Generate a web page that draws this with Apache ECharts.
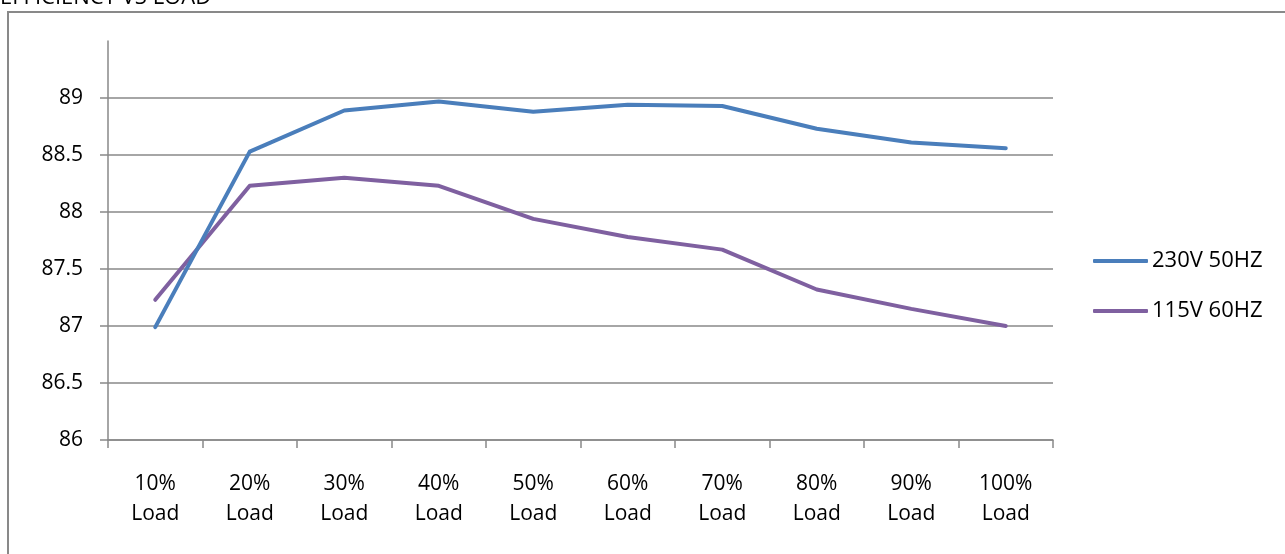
<!DOCTYPE html>
<html>
<head>
<meta charset="utf-8">
<style>
  html, body { margin: 0; padding: 0; background: #fff; }
  #chart { width: 1285px; height: 554px; }
</style>
<script src="https://cdn.jsdelivr.net/npm/echarts@6/dist/echarts.min.js"></script>
</head>
<body>
<div id="chart"></div>
<script>
// Load steps on the x axis
const loads = ['10%\nLoad', '20%\nLoad', '30%\nLoad', '40%\nLoad', '50%\nLoad',
               '60%\nLoad', '70%\nLoad', '80%\nLoad', '90%\nLoad', '100%\nLoad'];

// Efficiency (%) at each load step
const eff230 = [86.99, 88.53, 88.89, 88.97, 88.88, 88.94, 88.93, 88.73, 88.61, 88.56];
const eff115 = [87.23, 88.23, 88.30, 88.23, 87.94, 87.78, 87.67, 87.32, 87.15, 87.00];

const seriesNames = ['230V 50HZ', '115V 60HZ'];
const titleText = 'EFFICIENCY VS LOAD';

// Value axis range and labelled ticks
const yMin = 86, yMax = 89.5, yStep = 0.5;
const yTickLabels = [86, 86.5, 87, 87.5, 88, 88.5, 89];

const FONT = '"Open Sans", sans-serif';
const GRID = '#898989';
const COLORS = ['#4a7ebb', '#7f60a0'];

const chart = echarts.init(document.getElementById('chart'), null, { renderer: 'canvas' });

chart.setOption({
  backgroundColor: '#ffffff',
  animation: false,
  textStyle: { fontFamily: FONT },
  graphic: [
    {
      type: 'rect',
      shape: { x: 8, y: 12, width: 1400, height: 700 },
      style: { fill: 'none', stroke: GRID, lineWidth: 2 },
      z: 0
    },
    {
      // chart title, sitting above the frame and partly cut by the page edge
      type: 'text',
      style: {
        x: 0, y: -13, text: titleText, fontSize: 22, fontFamily: FONT, fill: '#000'
      }
    }
  ],
  legend: {
    orient: 'vertical',
    left: 1093,
    top: 250,
    padding: 0,
    itemWidth: 55,
    itemHeight: 4,
    itemGap: 28,
    data: seriesNames.map(n => ({ name: n, icon: 'roundRect' })),
    textStyle: { fontSize: 22, color: '#000', fontFamily: FONT, padding: [0, 0, 0, -1] }
  },
  grid: { left: 108, right: 232, top: 41, bottom: 114, containLabel: false },
  xAxis: {
    type: 'category',
    data: loads,
    boundaryGap: true,
    axisLine: { lineStyle: { color: GRID, width: 1.5 } },
    axisTick: { show: true, length: 8, alignWithLabel: false, lineStyle: { color: GRID, width: 1.5 } },
    axisLabel: { color: '#000', fontSize: 21, lineHeight: 30, margin: 29, fontFamily: FONT, interval: 0 },
    splitLine: { show: false }
  },
  yAxis: {
    type: 'value',
    min: yMin,
    max: yMax,
    interval: yStep,
    axisLine: { show: true, lineStyle: { color: GRID, width: 1.5 } },
    axisTick: { show: true, length: 8, lineStyle: { color: GRID, width: 1.5 }, customValues: yTickLabels },
    axisLabel: {
      color: '#000', fontSize: 21, margin: 25, fontFamily: FONT,
      customValues: yTickLabels,
      formatter: v => String(v)
    },
    splitLine: {
      show: true,
      lineStyle: {
        width: 1.5,
        color: [GRID, GRID, GRID, GRID, GRID, GRID, GRID, 'rgba(0,0,0,0)']
      }
    }
  },
  series: [
    {
      name: seriesNames[0],
      type: 'line',
      data: eff230,
      symbol: 'none',
      color: COLORS[0],
      lineStyle: { width: 4, cap: 'round', join: 'round' },
      z: 3
    },
    {
      name: seriesNames[1],
      type: 'line',
      data: eff115,
      symbol: 'none',
      color: COLORS[1],
      lineStyle: { width: 4, cap: 'round', join: 'round' },
      z: 2
    }
  ]
});
</script>
</body>
</html>
